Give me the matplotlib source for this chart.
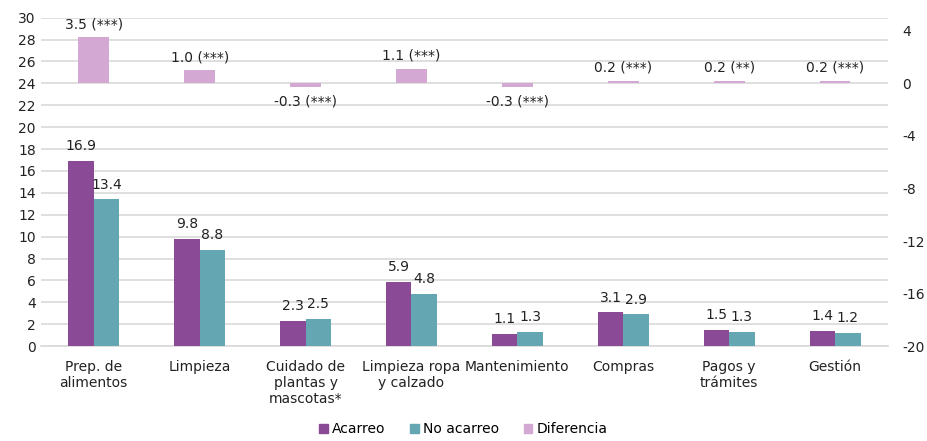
import numpy as np
import matplotlib.pyplot as plt
from matplotlib.patches import Patch

# data
categories = ["Prep. de\nalimentos", "Limpieza", "Cuidado de\nplantas y\nmascotas*",
              "Limpieza ropa\ny calzado", "Mantenimiento", "Compras",
              "Pagos y\ntrámites", "Gestión"]
acarreo = [16.9, 9.8, 2.3, 5.9, 1.1, 3.1, 1.5, 1.4]
no_acarreo = [13.4, 8.8, 2.5, 4.8, 1.3, 2.9, 1.3, 1.2]
diferencia = [3.5, 1.0, -0.3, 1.1, -0.3, 0.2, 0.2, 0.2]
signif = ["(***)", "(***)", "(***)", "(***)", "(***)", "(***)", "(**)", "(***)"]

c_acarreo = "#8B4A96"
c_no = "#64A6B1"
c_dif = "#D3A9D3"
fs = 10

plt.rcParams['font.family'] = ['DejaVu Sans']
plt.rcParams['axes.unicode_minus'] = False

fig, ax = plt.subplots(figsize=(9.27, 4.41), dpi=100)
fig.subplots_adjust(left=0.044, right=0.958, top=0.96, bottom=0.215)
ax2 = ax.twinx()

x = np.arange(len(categories))
w = 0.24

ax.bar(x - w / 2, acarreo, w, color=c_acarreo, zorder=3)
ax.bar(x + w / 2, no_acarreo, w, color=c_no, zorder=3)
for xi, v in zip(x - w / 2, acarreo):
    ax.text(xi, v + 0.7, f"{v:.1f}", ha="center", va="bottom", fontsize=fs, color="#222222")
for xi, v in zip(x + w / 2, no_acarreo):
    ax.text(xi, v + 0.7, f"{v:.1f}", ha="center", va="bottom", fontsize=fs, color="#222222")

ax2.bar(x, diferencia, 0.29, color=c_dif, zorder=3)
for xi, v, s in zip(x, diferencia, signif):
    if v >= 0:
        ax2.text(xi, v + 0.45, f"{v:.1f} {s}", ha="center", va="bottom", fontsize=fs, color="#222222")
    else:
        ax2.text(xi, v - 0.55, f"{v:.1f} {s}", ha="center", va="top", fontsize=fs, color="#222222")

ax.set_ylim(0, 30)
ax.set_yticks(range(0, 31, 2))
ax2.set_ylim(-20, 5)
ax2.set_yticks(range(-20, 5, 4))
ax.set_xlim(-0.5, len(categories) - 0.5)
ax.set_xticks(x)
ax.set_xticklabels(categories, fontsize=fs)

ax.yaxis.grid(True, color="#D9D9D9", linewidth=1.2, zorder=0)
ax.set_axisbelow(True)
for a in (ax, ax2):
    for sp in a.spines.values():
        sp.set_visible(False)
    a.tick_params(length=0, labelsize=fs, colors="#222222")
ax.spines["bottom"].set_visible(True)
ax.spines["bottom"].set_color("#D9D9D9")
ax.spines["bottom"].set_linewidth(1.2)
ax.tick_params(axis="x", pad=10)
ax2.tick_params(axis="y", pad=10)

handles = [Patch(color=c_acarreo), Patch(color=c_no), Patch(color=c_dif)]
fig.legend(handles, ["Acarreo", "No acarreo", "Diferencia"], loc="lower center",
           ncol=3, frameon=False, fontsize=fs, bbox_to_anchor=(0.5, -0.018),
           handlelength=0.6, handleheight=0.6, handletextpad=0.3, columnspacing=1.8)

fig.savefig("out.png", dpi=100)
